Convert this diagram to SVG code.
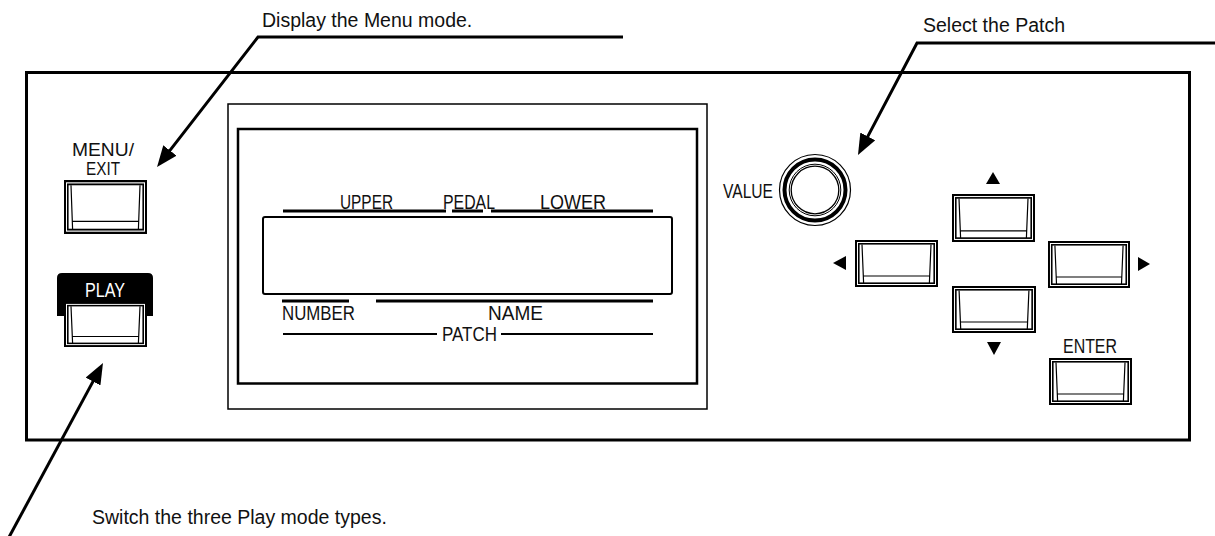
<svg xmlns="http://www.w3.org/2000/svg" width="1215" height="536" viewBox="0 0 1215 536">
<style>
.ann{font-family:"Liberation Sans",Arial,sans-serif;font-size:19.5px;fill:#111}
.lbl{font-family:"Liberation Sans Narrow","Liberation Sans",Arial,sans-serif;font-size:21px;fill:#111}
.sm{font-size:18px}
.ln{stroke:#000;fill:none}
.conn{stroke:#000;stroke-width:3;fill:none;marker-end:url(#ah)}
.tri{fill:#000}
</style>
<defs>
<marker id="ah" viewBox="0 0 10 8" markerWidth="7" markerHeight="5.6" refX="6" refY="4" orient="auto" markerUnits="strokeWidth">
<path d="M0,0 L10,4 L0,8 z" fill="#000"/>
</marker>
<symbol id="btn" viewBox="0 0 83 47" preserveAspectRatio="none">
<rect x="0" y="0" width="83" height="47" fill="#fff"/>
<rect x="1" y="1" width="81" height="45" fill="none" stroke="#000" stroke-width="2"/>
<rect x="3.8" y="3.8" width="75.4" height="39.4" fill="none" stroke="#000" stroke-width="1.6"/>
<path d="M7,4.5 L8.6,43 M76,4.5 L74.4,43 M8.4,36 L74.6,36" fill="none" stroke="#000" stroke-width="1.2"/>
</symbol>
</defs>

<g id="panel">
<rect x="26.5" y="72.5" width="1163" height="367.5" fill="none" stroke="#000" stroke-width="3"/>
</g>

<g id="display">
<rect x="228" y="104" width="479" height="305" fill="none" stroke="#000" stroke-width="1.5"/>
<rect x="238" y="129" width="459" height="254.5" fill="none" stroke="#000" stroke-width="2.5"/>
<rect x="263" y="217" width="409" height="77" rx="2" fill="none" stroke="#000" stroke-width="2"/>
<path class="ln" stroke-width="3" d="M283,211 H446 M452,211 H483 M491,211 H653 M282,301 H349 M376,301 H653"/>
<path class="ln" stroke-width="2" d="M283,334 H437 M501,334 H653"/>
<text class="lbl" x="340" y="209" textLength="53" lengthAdjust="spacingAndGlyphs">UPPER</text>
<text class="lbl" x="443" y="209" textLength="52" lengthAdjust="spacingAndGlyphs">PEDAL</text>
<text class="lbl" x="540" y="209" textLength="66" lengthAdjust="spacingAndGlyphs">LOWER</text>
<text class="lbl" x="282" y="320" textLength="73" lengthAdjust="spacingAndGlyphs">NUMBER</text>
<text class="lbl" x="488" y="320" textLength="55" lengthAdjust="spacingAndGlyphs">NAME</text>
<text class="lbl" x="442" y="341" textLength="55" lengthAdjust="spacingAndGlyphs">PATCH</text>
</g>

<g id="menu-exit">
<text class="lbl sm" x="72" y="156" textLength="62" lengthAdjust="spacingAndGlyphs">MENU/</text>
<text class="lbl sm" x="86" y="175" textLength="34" lengthAdjust="spacingAndGlyphs">EXIT</text>
<use href="#btn" x="64" y="180" width="83" height="54"/>
</g>

<g id="play">
<path d="M57,316 V278 Q57,273 62,273 H148 Q153,273 153,278 V316 z" fill="#000"/>
<text class="lbl" x="85" y="297" textLength="40" lengthAdjust="spacingAndGlyphs" style="fill:#fff">PLAY</text>
<use href="#btn" x="64" y="302" width="83" height="45"/>
</g>

<g id="value">
<text class="lbl" x="723" y="198" textLength="50" lengthAdjust="spacingAndGlyphs">VALUE</text>
<circle cx="815" cy="190" r="35.5" fill="#fff" stroke="#000" stroke-width="1.2"/>
<circle cx="815" cy="190" r="30.5" fill="none" stroke="#000" stroke-width="4"/>
<circle cx="815" cy="190" r="25.8" fill="none" stroke="#000" stroke-width="1"/>
<circle cx="815" cy="190" r="23.8" fill="none" stroke="#000" stroke-width="1.3"/>
</g>

<g id="btn-up">
<polygon class="tri" points="993,172 1000,184 986,184"/>
<use href="#btn" x="952" y="194" width="83" height="48"/>
</g>
<g id="btn-left">
<polygon class="tri" points="833,263 846,256 846,270"/>
<use href="#btn" x="855" y="240" width="83" height="47"/>
</g>
<g id="btn-right">
<polygon class="tri" points="1150,264 1138,257 1138,271"/>
<use href="#btn" x="1048" y="241" width="82" height="47"/>
</g>
<g id="btn-down">
<use href="#btn" x="952" y="286" width="84" height="47"/>
<polygon class="tri" points="994,355 1001,342 987,342"/>
</g>
<g id="enter">
<text class="lbl" x="1063" y="353" textLength="54" lengthAdjust="spacingAndGlyphs">ENTER</text>
<use href="#btn" x="1049" y="358" width="83" height="47"/>
</g>

<g id="connectors">
<polyline class="conn" points="623,37 258,37 162.2,160.4"/>
<polyline class="conn" points="1215,43 917,43 861.9,147.6"/>
<polyline class="conn" points="8,539 99,370.4"/>
</g>

<g id="annotations">
<text class="ann" x="262" y="27">Display the Menu mode.</text>
<text class="ann" x="923" y="32">Select the Patch</text>
<text class="ann" x="92" y="524">Switch the three Play mode types.</text>
</g>
</svg>
